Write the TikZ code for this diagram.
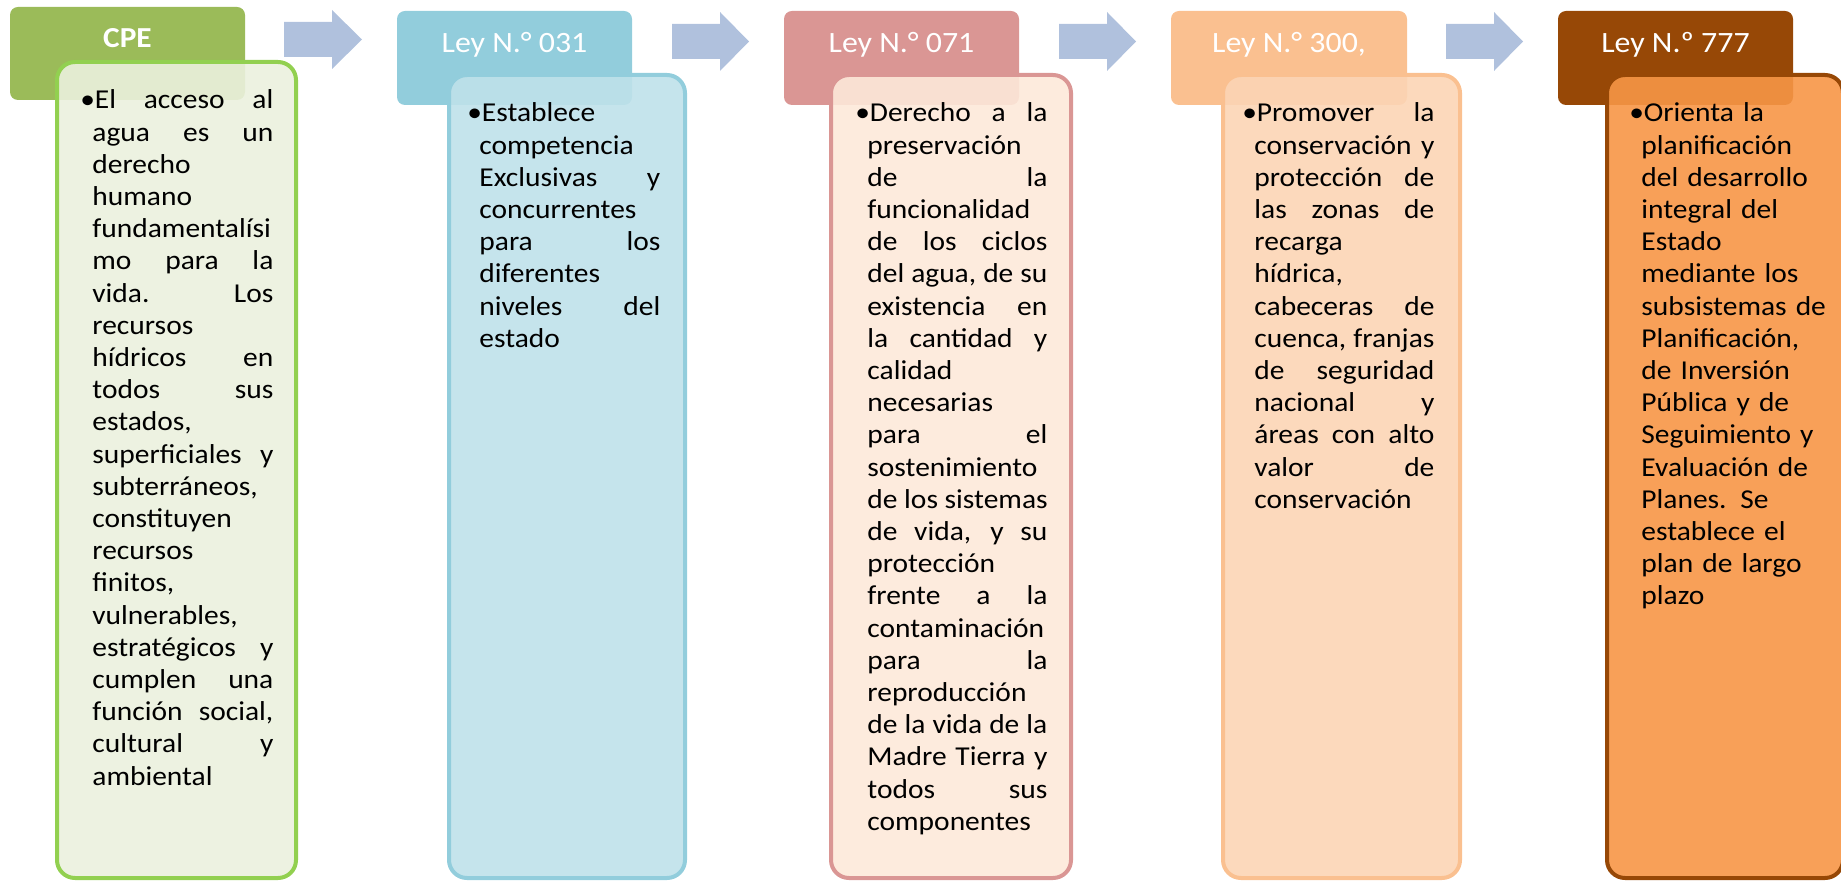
\documentclass[tikz,border=0pt]{standalone}
\usepackage{fontspec}
\setmainfont{Carlito}[FakeStretch=1.08]
\definecolor{hdrA}{HTML}{9BBB59}
\definecolor{bodA}{HTML}{EBF1DE}
\definecolor{brdA}{HTML}{92D050}
\definecolor{hdrB}{HTML}{92CDDC}
\definecolor{bodB}{HTML}{BFE1EA}
\definecolor{brdB}{HTML}{92CDDC}
\definecolor{hdrC}{HTML}{DA9694}
\definecolor{bodC}{HTML}{FDE9D9}
\definecolor{brdC}{HTML}{DA9694}
\definecolor{hdrD}{HTML}{FAC090}
\definecolor{bodD}{HTML}{FCD5B5}
\definecolor{brdD}{HTML}{FAC090}
\definecolor{hdrE}{HTML}{974806}
\definecolor{bodE}{HTML}{F79646}
\definecolor{brdE}{HTML}{974806}
\definecolor{arrowc}{HTML}{B0C1DD}
\newcommand\stretchsp{\spaceskip=\fontdimen2\font plus 1fil\relax\xspaceskip=\spaceskip}
\newcommand\myj[1]{\hbox to\linewidth{\stretchsp #1}}
\newcommand\myl[1]{\hbox to\linewidth{#1\hfil}}
\newcommand\bul{\kern-4.5pt\hbox to 5.75pt{\kern-1.5pt•\hss}}
\newcommand\myfirstj[1]{\hbox to\linewidth{\bul\hbox to\dimexpr\linewidth-1.25pt\relax{\stretchsp #1}}}
\newcommand\myfirstl[1]{\hbox to\linewidth{\bul #1\hfil}}
\begin{document}
\begin{tikzpicture}[x=0.5pt,y=-0.5pt,
  hdrbox/.style={rounded corners=4pt},
  bodybox/.style={rounded corners=9pt, line width=2pt, fill opacity=0.9, draw opacity=1},
  htext/.style={anchor=base, text=white, inner sep=0pt, font=\fontsize{14.75pt}{17pt}\selectfont},
  btext/.style={anchor=base west, inner sep=0pt, text width=#1, font=\fontsize{13.65pt}{16.1pt}\selectfont},
  blockarrow/.style={fill=arrowc}]
\path[use as bounding box, clip] (0,0) rectangle (1841,881);

% headers
\fill[hdrbox, hdrA] (10,7) rectangle (245,100);
\fill[hdrbox, hdrB] (397,11) rectangle (632,105);
\fill[hdrbox, hdrC] (784,11) rectangle (1019,105);
\fill[hdrbox, hdrD] (1171,11) rectangle (1407,105);
\fill[hdrbox, hdrE] (1558,11) rectangle (1793,105);

\node[htext, font=\fontsize{14.5pt}{17pt}\selectfont\bfseries] (l1) at (127.5,48) {CPE};
\node[htext] (l2) at (514.5,53) {Ley N.° 031};
\node[htext] (l3) at (901.5,53) {Ley N.° 071};
\node[htext] (l4) at (1289,53) {Ley N.° 300,};
\node[htext] (l5) at (1675.5,53) {Ley N.º 777};

% bodies
\filldraw[bodybox, fill=bodA, draw=brdA] (57,62) rectangle (296,878);
\filldraw[bodybox, fill=bodB, draw=brdB] (449,75) rectangle (685,878);
\filldraw[bodybox, fill=bodC, draw=brdC] (831,75) rectangle (1071,878);
\filldraw[bodybox, fill=bodD, draw=brdD] (1223,75) rectangle (1460,878);
\filldraw[bodybox, fill=bodE, draw=brdE] (1607,75) rectangle (1843,878);

% arrows
\fill[blockarrow] (284,22) -- (332,22) -- (332,10) -- (362,39.5) -- (332,69) -- (332,57) -- (284,57) -- cycle;
\fill[blockarrow] (672,24) -- (720,24) -- (720,12) -- (749,41.5) -- (720,71) -- (720,59) -- (672,59) -- cycle;
\fill[blockarrow] (1059,24) -- (1107,24) -- (1107,12) -- (1136,41.5) -- (1107,71) -- (1107,59) -- (1059,59) -- cycle;
\fill[blockarrow] (1446,24) -- (1494,24) -- (1494,12) -- (1523,41.5) -- (1494,71) -- (1494,59) -- (1446,59) -- cycle;

% texts
\node[btext=90.5pt] (t1) at (92,109) {%
\myfirstj{El acceso al}
\myj{agua es un}
\myl{derecho}
\myl{humano}
\myl{fundamentalísi}
\myj{mo para la}
\myj{vida. Los}
\myl{recursos}
\myj{hídricos en}
\myj{todos sus}
\myl{estados,}
\myj{superficiales y}
\myl{subterráneos,}
\myl{constituyen}
\myl{recursos}
\myl{finitos,}
\myl{vulnerables,}
\myj{estratégicos y}
\myj{cumplen una}
\myj{función social,}
\myj{cultural y}
\myl{ambiental}};

\node[btext=90.5pt] (t2) at (479,122) {%
\myfirstl{Establece}
\myl{competencia}
\myj{Exclusivas y}
\myl{concurrentes}
\myj{para los}
\myl{diferentes}
\myj{niveles del}
\myl{estado}};

\node[btext=90pt] (t3) at (867,122) {%
\myfirstj{Derecho a la}
\myl{preservación}
\myj{de la}
\myl{funcionalidad}
\myj{de los ciclos}
\myj{del agua, de su}
\myj{existencia en}
\myj{la cantidad y}
\myl{calidad}
\myl{necesarias}
\myj{para el}
\myl{sostenimiento}
\myj{de los sistemas}
\myj{de vida, y su}
\myl{protección}
\myj{frente a la}
\myl{contaminación}
\myj{para la}
\myl{reproducción}
\myj{de la vida de la}
\myj{Madre Tierra y}
\myj{todos sus}
\myl{componentes}};

\node[btext=90pt] (t4) at (1254,122) {%
\myfirstj{Promover la}
\myj{conservación y}
\myj{protección de}
\myj{las zonas de}
\myl{recarga}
\myl{hídrica,}
\myj{cabeceras de}
\myj{cuenca, franjas}
\myj{de seguridad}
\myj{nacional y}
\myj{áreas con alto}
\myj{valor de}
\myl{conservación}};

\node[btext=95pt] (t5) at (1641,122) {%
\myfirstl{Orienta la}
\myl{planificación}
\myl{del desarrollo}
\myl{integral del}
\myl{Estado}
\myl{mediante los}
\myl{subsistemas de}
\myl{Planificación,}
\myl{de Inversión}
\myl{Pública y de}
\myl{Seguimiento y}
\myl{Evaluación de}
\myl{Planes. Se}
\myl{establece el}
\myl{plan de largo}
\myl{plazo}};
\end{tikzpicture}
\end{document}
